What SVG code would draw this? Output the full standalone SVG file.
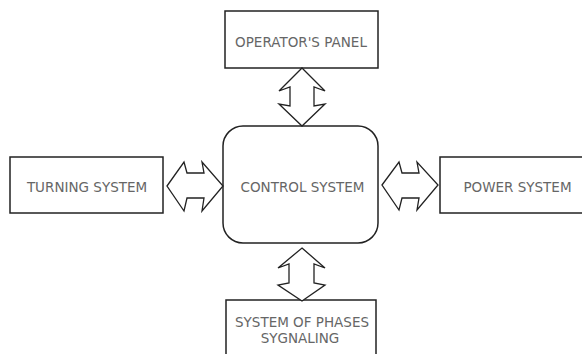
<svg xmlns="http://www.w3.org/2000/svg" width="582" height="354" viewBox="0 0 582 354">
<style>
.box{fill:#fff;stroke:#222;stroke-width:1.5}
.arr{fill:#fff;stroke:#222;stroke-width:1.3;stroke-linejoin:miter}
.t{font-family:"DejaVu Sans",Verdana,sans-serif;font-size:13.5px;fill:#666;text-anchor:middle}
</style>
<rect width="582" height="354" fill="#fff"/>
<g id="operators-panel">
<rect class="box" x="225" y="11" width="153" height="57"/>
<text class="t" x="301" y="46.5">OPERATOR'S PANEL</text>
</g>
<g id="turning-system">
<rect class="box" x="10" y="157" width="153" height="56"/>
<text class="t" x="87" y="191.5">TURNING SYSTEM</text>
</g>
<g id="control-system">
<rect class="box" x="223" y="126" width="155" height="117" rx="20" ry="20"/>
<text class="t" x="302.5" y="191.5">CONTROL SYSTEM</text>
</g>
<g id="power-system">
<rect class="box" x="440" y="157" width="150" height="56"/>
<text class="t" x="517.5" y="191.5">POWER SYSTEM</text>
</g>
<g id="phases-signaling">
<rect class="box" x="226" y="300" width="150" height="70"/>
<text class="t" x="302" y="326.5">SYSTEM OF PHASES</text>
<text class="t" x="300" y="342.5">SYGNALING</text>
</g>
<g id="connectors">
<polygon class="arr" points="302,68 325,91 314,87 314,106 325,104 302,126 279,104 290,106 290,87 279,91"/>
<polygon class="arr" points="167,186 184,162 187,173 204,173 202,162 223,186 202,211 204,198 187,198 184,211"/>
<polygon class="arr" points="382,185 399,162 402,173 419,173 417,162 438,185 417,210 419,198 402,198 399,210"/>
<polygon class="arr" points="302,248 325,268 314,264 314,283 325,285 302,301 278,285 289,283 289,264 278,268"/>
</g>
</svg>
